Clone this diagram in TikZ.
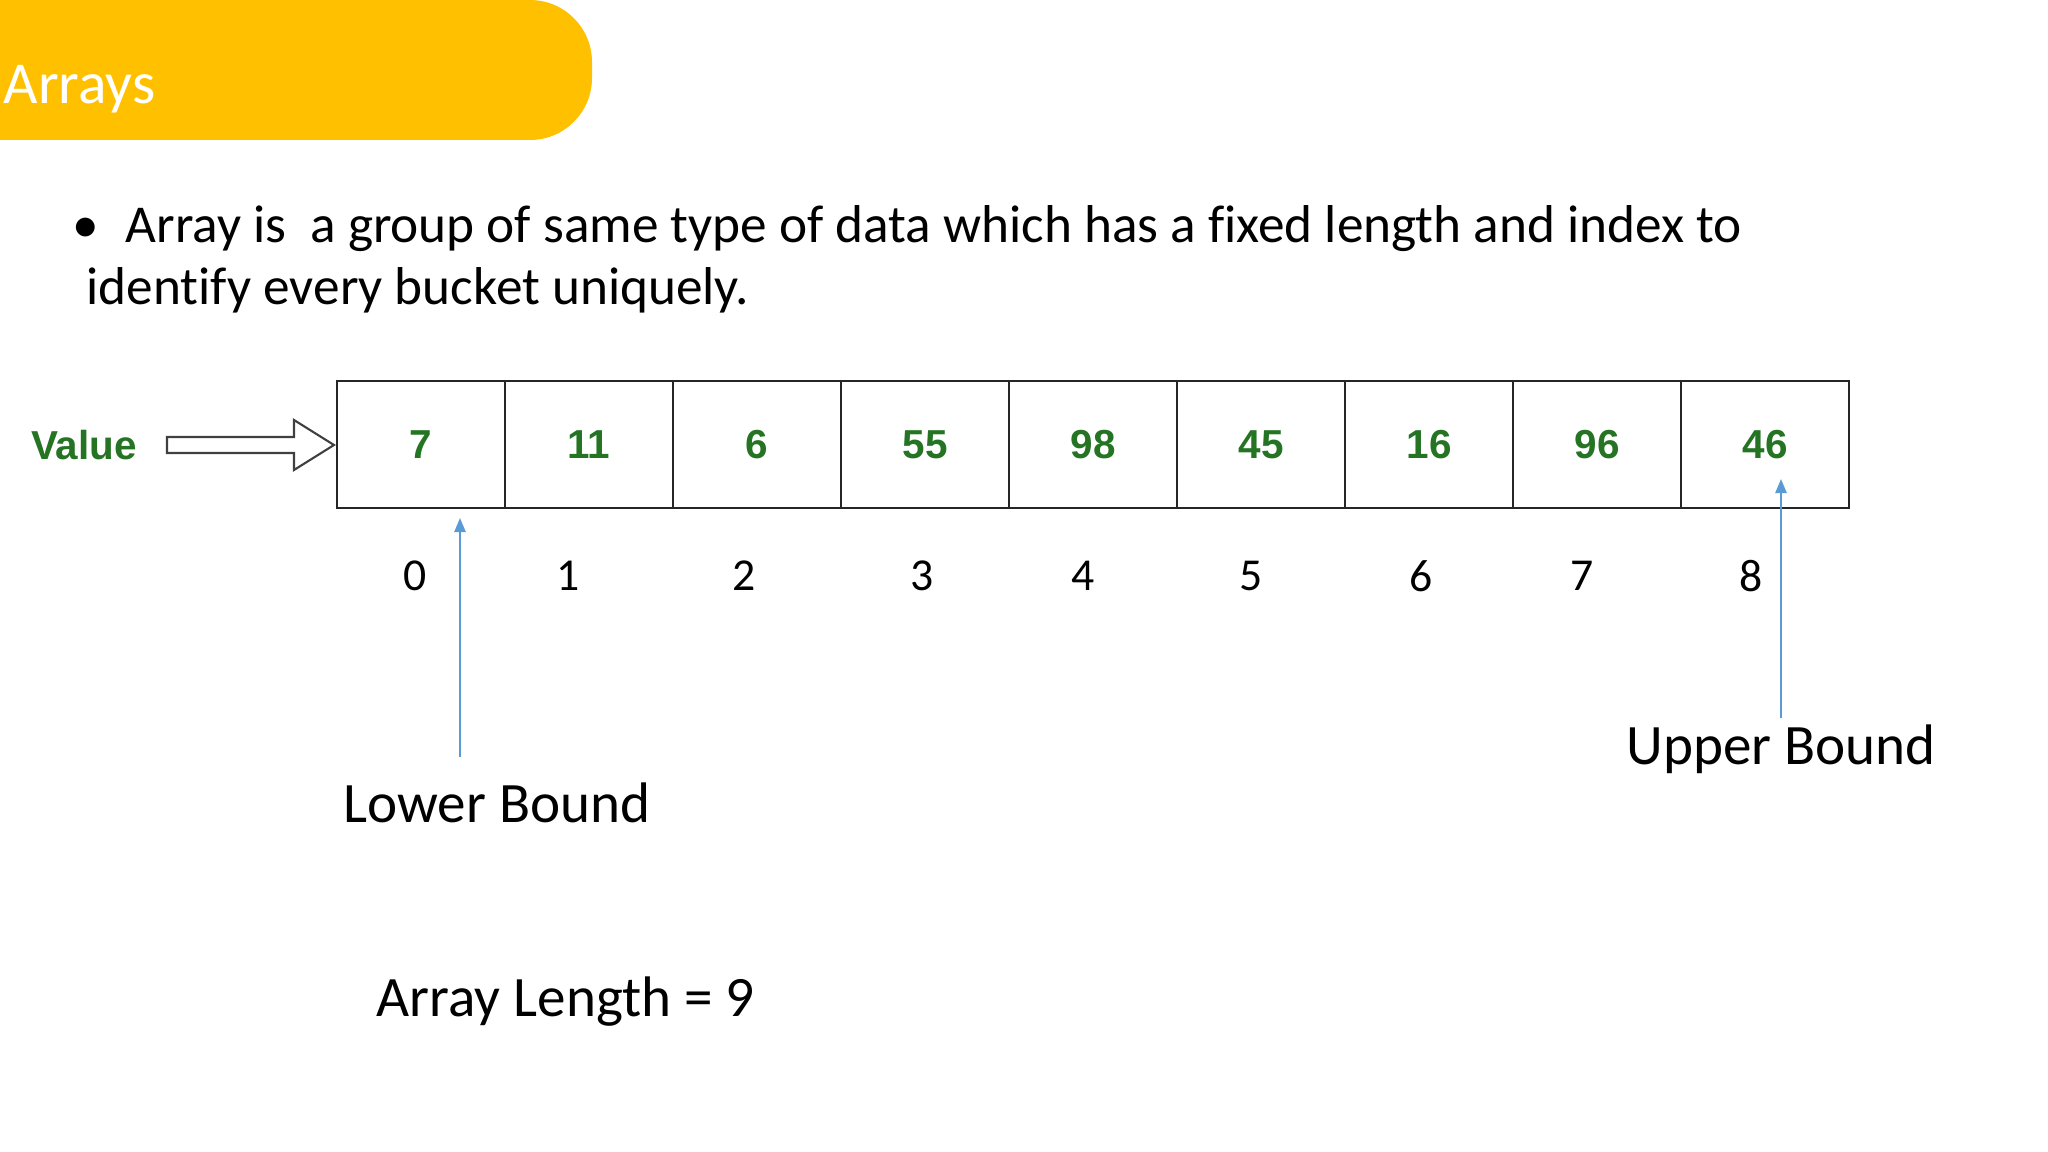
\documentclass[tikz,border=0pt]{standalone}
\usepackage{fontspec}
\setmainfont[Ligatures=NoCommon]{Carlito}
\newfontfamily\numfont{Liberation Sans}
\usepackage{xcolor}
\usetikzlibrary{arrows.meta, positioning}

\definecolor{headyellow}{HTML}{FFC000}
\definecolor{valgreen}{RGB}{36,116,36}
\definecolor{boundblue}{HTML}{5B9BD5}

\begin{document}
\begin{tikzpicture}[x=0.01cm, y=-0.01cm,
    cell/.style={draw=black!85, line width=0.7pt, minimum width=1.68cm, minimum height=1.27cm,
        inner sep=0pt, text=valgreen, font=\numfont\bfseries\fontsize{11.5}{13}\selectfont},
    idx/.style={inner sep=0pt, font=\fontsize{13}{15}\selectfont},
    bound/.style={draw=boundblue, line width=0.55pt, -{Triangle[length=4pt,width=3.2pt]}},
    boundtext/.style={inner sep=0pt, font=\fontsize{16.25}{19}\selectfont},
    bodytext/.style={anchor=base west, inner sep=0pt, font=\fontsize{15.15}{18}\selectfont}]
    \useasboundingbox (0,0) rectangle (2048,1152);

    % Title bar
    \fill[headyellow, rounded corners=0.62cm] (0,0) rectangle (592,140);
    \fill[headyellow] (0,0) rectangle (100,140);
    \node[anchor=base west, inner sep=0pt, text=white, font=\fontsize{16.9}{20}\selectfont] (title) at (3,104) {Arrays};

    % Bullet text
    \node[inner sep=0pt, anchor=base, font=\fontsize{15.15}{18}\selectfont] (bullet) at (86,243) {\textbullet};
    \node[bodytext] (line1) at (125,243) {Array is~ a group of same type of data which has a fixed length and index to};
    \node[bodytext] (line2) at (86,305) {identify every bucket uniquely.};

    % Array cells
    \foreach \v [count=\i from 0] in {7,11,6,55,98,45,16,96,46}
        \node[cell] (c\i) at (421+168*\i, 444.5) {\v};

    % Value label and hollow arrow
    \node[inner sep=0pt, text=valgreen, font=\numfont\bfseries\fontsize{11.5}{13}\selectfont] (value) at (84,445) {Value};
    \draw[black!75, line width=0.6pt, fill=white] (167,437) -- (294,437) -- (294,420) -- (334,445)
        -- (294,470) -- (294,453) -- (167,453) -- cycle;

    % Indices
    \foreach \x [count=\i from 0] in {415,568,744,922,1083,1251,1421,1582,1751}
        \node[idx] (i\i) at (\x,576) {\i};

    % Bounds
    \node[boundtext] (lb) at (497,803) {Lower Bound};
    \node[boundtext] (ub) at (1781,749) {Upper Bound};
    \coordinate (lbfoot) at (460,757);
    \coordinate (lbtip) at (460,518);
    \coordinate (ubfoot) at (1781,718);
    \coordinate (ubtip) at (1781,479);
    \draw[bound] (lbfoot) -- (lbtip);
    \draw[bound] (ubfoot) -- (ubtip);

    % Length
    \node[boundtext, anchor=west] (len) at (376,1002) {Array Length = 9};
\end{tikzpicture}
\end{document}
